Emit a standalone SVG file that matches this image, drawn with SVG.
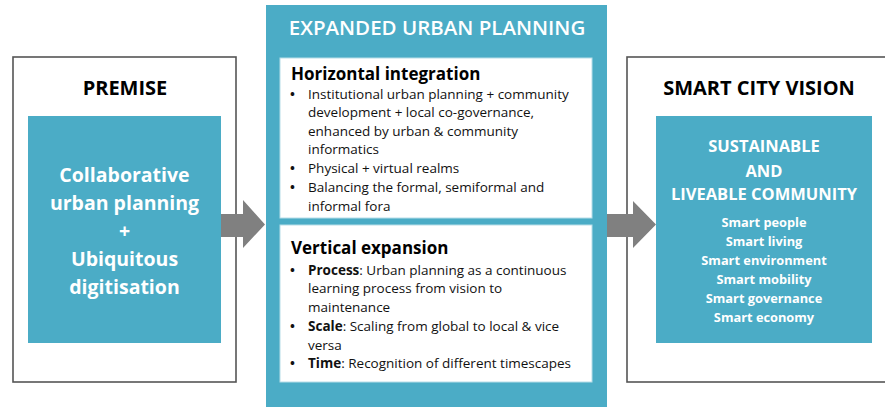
<svg xmlns="http://www.w3.org/2000/svg" width="885" height="407" viewBox="0 0 885 407">
  <style>
    .frame { fill: #ffffff; stroke: #555555; stroke-width: 1.6; }
    .teal { fill: #4bacc6; }
    .panel { fill: #ffffff; stroke: #b7dde8; stroke-width: 1; }
    .arrow { fill: #808080; }
    text { font-family: "Open Sans", "Liberation Sans", sans-serif; }
    .head { font-size: 20px; font-weight: 700; fill: #000000; text-anchor: middle; }
    .big { font-size: 19.5px; font-weight: 700; fill: #ffffff; text-anchor: middle; }
    .title { font-size: 20.5px; font-weight: 600; fill: #ffffff; text-anchor: middle; }
    .sub { font-size: 17px; font-weight: 700; fill: #000000; }
    .body { font-size: 13.5px; fill: #111111; }
    .bul { font-size: 13px; font-weight: 700; fill: #111111; }
    .vision { font-size: 16.5px; font-weight: 700; fill: #ffffff; text-anchor: middle; }
    .item { font-size: 12.8px; font-weight: 700; fill: #ffffff; text-anchor: middle; }
    .b { font-weight: 700; }
  </style>

  <!-- left stage -->
  <g id="premise">
    <rect class="frame" x="13" y="57" width="223" height="325"/>
    <text class="head" x="125" y="95">PREMISE</text>
    <rect class="teal" x="28" y="116" width="193" height="227"/>
    <text class="big" x="124.5" y="182">Collaborative</text>
    <text class="big" x="124.5" y="210">urban planning</text>
    <text class="big" x="124.5" y="238">+</text>
    <text class="big" x="124.5" y="266">Ubiquitous</text>
    <text class="big" x="124.5" y="294">digitisation</text>
  </g>

  <!-- middle stage -->
  <g id="expanded-planning">
    <rect class="teal" x="266" y="5" width="341" height="402"/>
    <text class="title" x="437" y="35">EXPANDED URBAN PLANNING</text>

    <g id="horizontal">
      <rect class="panel" x="280" y="58" width="312" height="160"/>
      <text class="sub" x="291" y="80">Horizontal integration</text>
      <text class="bul" x="290" y="99">•</text>
      <text class="body" x="308" y="99">Institutional urban planning + community</text>
      <text class="body" x="308" y="117">development + local co-governance,</text>
      <text class="body" x="308" y="136">enhanced by urban &amp; community</text>
      <text class="body" x="308" y="154">informatics</text>
      <text class="bul" x="290" y="173">•</text>
      <text class="body" x="308" y="173">Physical + virtual realms</text>
      <text class="bul" x="290" y="192">•</text>
      <text class="body" x="308" y="192">Balancing the formal, semiformal and</text>
      <text class="body" x="308" y="211">informal fora</text>
    </g>

    <g id="vertical">
      <rect class="panel" x="280" y="225" width="312" height="157"/>
      <text class="sub" x="291" y="254">Vertical expansion</text>
      <text class="bul" x="290" y="275">•</text>
      <text class="body" x="308" y="275"><tspan class="b">Process</tspan>: Urban planning as a continuous</text>
      <text class="body" x="308" y="293">learning process from vision to</text>
      <text class="body" x="308" y="312">maintenance</text>
      <text class="bul" x="290" y="331">•</text>
      <text class="body" x="308" y="331"><tspan class="b">Scale</tspan>: Scaling from global to local &amp; vice</text>
      <text class="body" x="308" y="350">versa</text>
      <text class="bul" x="290" y="368">•</text>
      <text class="body" x="308" y="368"><tspan class="b">Time</tspan>: Recognition of different timescapes</text>
    </g>
  </g>

  <!-- right stage -->
  <g id="smart-city-vision">
    <rect class="frame" x="627" y="57" width="270" height="325"/>
    <text class="head" x="759" y="95">SMART CITY VISION</text>
    <rect class="teal" x="656" y="116" width="216" height="227"/>
    <text class="vision" x="764" y="152">SUSTAINABLE</text>
    <text class="vision" x="764" y="177">AND</text>
    <text class="vision" x="764" y="200">LIVEABLE COMMUNITY</text>
    <text class="item" x="764" y="227">Smart people</text>
    <text class="item" x="764" y="246">Smart living</text>
    <text class="item" x="764" y="265">Smart environment</text>
    <text class="item" x="764" y="284">Smart mobility</text>
    <text class="item" x="764" y="303">Smart governance</text>
    <text class="item" x="764" y="322">Smart economy</text>
  </g>

  <!-- connectors: block arrows between the three stages, drawn over the frames -->
  <g id="connectors">
    <polygon class="arrow" points="221,214 243,214 243,200 265,224.5 243,248 243,237 221,237"/>
    <polygon class="arrow" points="607,214 633,214 633,201 656,224.5 633,248 633,237 607,237"/>
  </g>
</svg>
